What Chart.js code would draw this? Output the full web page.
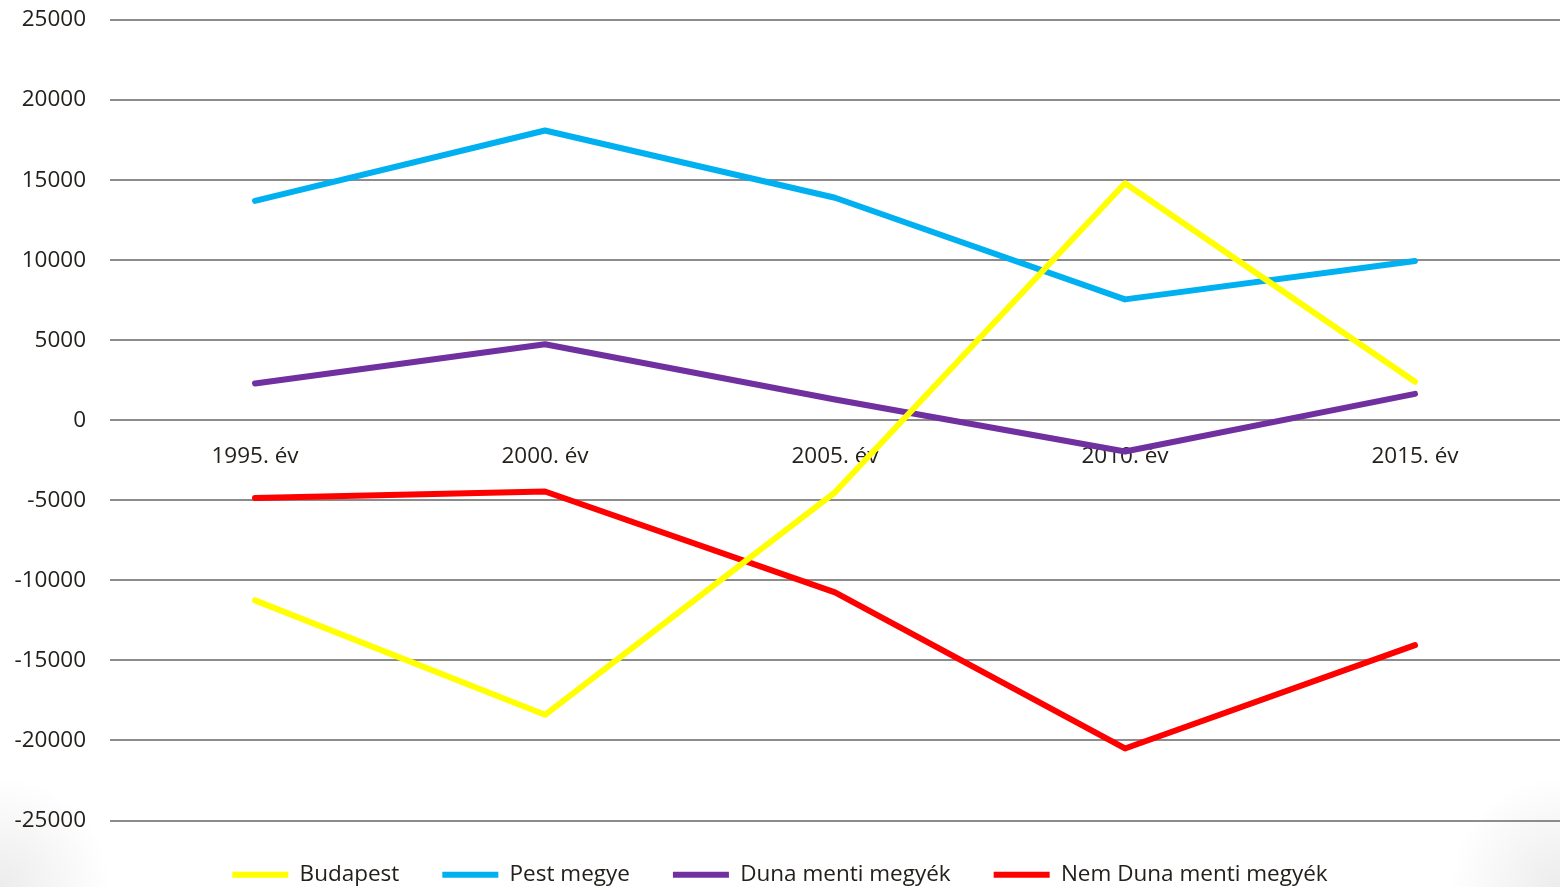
<!DOCTYPE html>
<html>
<head>
<meta charset="utf-8">
<script src="https://cdn.jsdelivr.net/npm/chart.js@4/dist/chart.umd.min.js"></script>
<style>
  html, body { margin: 0; padding: 0; background: #fff; }
  #wrap { width: 1560px; height: 887px; position: relative;
    background: radial-gradient(circle at 0% 100%, #ececec 0, rgba(255,255,255,0) 110px),
                radial-gradient(circle at 100% 100%, #ececec 0, rgba(255,255,255,0) 110px), #fff; }
</style>
</head>
<body>
<div id="wrap"><canvas id="chLine"></canvas></div>
<script>
var years = ['1995. év', '2000. év', '2005. év', '2010. év', '2015. év'];
var budapest = [-11250, -18400, -4500, 14800, 2400];
var pest = [13700, 18100, 13900, 7550, 9950];
var duna = [2300, 4750, 1300, -1950, 1650];
var nemDuna = [-4850, -4450, -10750, -20500, -14050];
var yTicks = [25000, 20000, 15000, 10000, 5000, 0, -5000, -10000, -15000, -20000, -25000];

var textColor = '#24211c';
var font = { family: 'Open Sans', size: 22.5 };

function line(label, data, color) {
  return {
    label: label, data: data, borderColor: color, backgroundColor: color,
    borderWidth: 6, pointRadius: 0, tension: 0, fill: false,
    borderCapStyle: 'round', borderJoinStyle: 'round', pointStyle: 'line'
  };
}

var chLine = document.getElementById('chLine');
new Chart(chLine, {
  type: 'line',
  data: {
    labels: years,
    datasets: [
      line('Budapest', budapest, '#FFFF00'),
      line('Pest megye', pest, '#00B0F0'),
      line('Duna menti megyék', duna, '#7030A0'),
      line('Nem Duna menti megyék', nemDuna, '#FF0000')
    ]
  },
  options: {
    responsive: true,
    maintainAspectRatio: false,
    animation: false,
    layout: { padding: { top: 20, right: 0, left: 0, bottom: -9 } },
    plugins: {
      tooltip: { enabled: false },
      legend: {
        position: 'bottom',
        labels: {
          color: textColor, font: font, usePointStyle: true,
          pointStyle: 'line', pointStyleWidth: 56, padding: 43
        }
      }
    },
    scales: {
      x: {
        position: { y: 0 },
        offset: true,
        grid: { display: false, drawTicks: false },
        border: { display: false },
        ticks: { color: textColor, font: font, padding: 23, maxRotation: 0 }
      },
      y: {
        min: -25000, max: 25000,
        afterBuildTicks: function (axis) { axis.ticks = yTicks.map(function (v) { return { value: v }; }); },
        afterFit: function (axis) { axis.width = 110; },
        grid: { color: '#8c8c8c', lineWidth: 2, drawTicks: true, tickLength: 24, tickColor: 'rgba(0,0,0,0)' },
        border: { display: false },
        ticks: {
          color: textColor, font: font, padding: 0,
          callback: function (v) { return String(v); }
        }
      }
    }
  }
});
</script>
</body>
</html>
